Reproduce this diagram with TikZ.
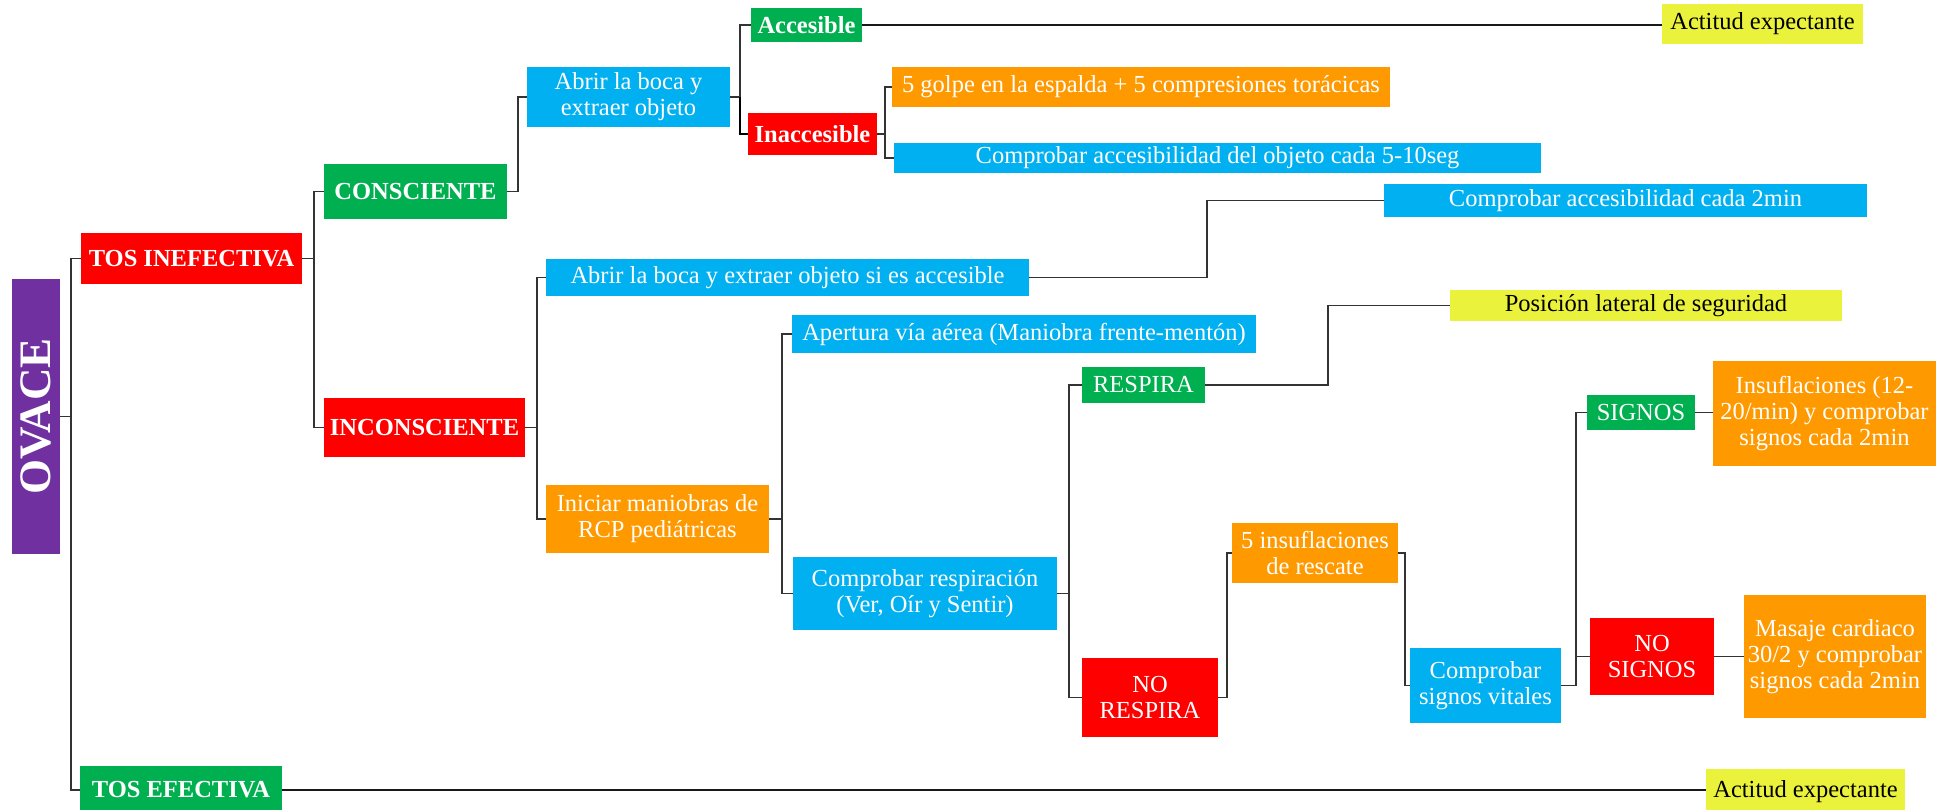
\documentclass[tikz,border=0pt]{standalone}
\usepackage{fontspec}
\setmainfont{Liberation Serif}
\usepackage{graphicx}
\definecolor{cpurple}{HTML}{7030A0}
\definecolor{cred}{HTML}{FF0000}
\definecolor{cgreen}{HTML}{00B050}
\definecolor{cblue}{HTML}{00B0F0}
\definecolor{corange}{HTML}{FF9900}
\definecolor{cyellow}{HTML}{EBF23C}
\definecolor{cline}{HTML}{333333}
\tikzset{
  bx/.style={inner sep=0pt, outer sep=0pt, align=center, text=white, font=\fontsize{24.5}{26}\selectfont},
  bxb/.style={bx, font=\fontsize{24.5}{26}\selectfont\bfseries},
  purpleb/.style={bxb, fill=cpurple},
  redb/.style={bxb, fill=cred},
  greenb/.style={bxb, fill=cgreen},
  redr/.style={bx, fill=cred},
  greenr/.style={bx, fill=cgreen},
  bluer/.style={bx, fill=cblue},
  oranger/.style={bx, fill=corange},
  yellowr/.style={bx, fill=cyellow, text=black},
  conn/.style={draw=cline, line width=1.5pt},
  longconn/.style={draw=black!90, line width=2.5pt}
}
\newcommand\mkbox[7]{\node[#6, minimum width={#3-#2}, minimum height={#5-#4}] (#1) at ({(#2+#3)/2},{(#4+#5)/2}) {#7};}
\begin{document}
\begin{tikzpicture}[x=1pt,y=-1pt]
\useasboundingbox (0,0) rectangle (1951,810);
\fill[white] (0,0) rectangle (1951,810);

% nodes
\mkbox{ovace}{12}{60}{279}{554}{purpleb}{\rotatebox{90}{\fontsize{45}{45}\selectfont OVACE}}
\mkbox{tosinef}{81}{302}{233}{284}{redb}{TOS INEFECTIVA}
\mkbox{tosef}{80}{282}{766}{814}{greenb}{TOS EFECTIVA}
\mkbox{consc}{324}{507}{164}{219}{greenb}{CONSCIENTE}
\mkbox{inconsc}{324}{525}{398}{457}{redb}{INCONSCIENTE}
\mkbox{abrir1}{527}{730}{67}{127}{bluer}{Abrir la boca y\\extraer objeto}
\mkbox{accesible}{751}{862}{8}{42}{greenb}{Accesible}
\mkbox{inacc}{748}{877}{113}{155}{redb}{Inaccesible}
\mkbox{actitud1}{1662}{1863}{4}{44}{yellowr}{Actitud expectante}
\mkbox{golpe}{892}{1390}{67}{107}{oranger}{5 golpe en la espalda + 5 compresiones torácicas}
\mkbox{compobj}{894}{1541}{143}{173}{bluer}{Comprobar accesibilidad del objeto cada 5-10seg}
\mkbox{abrir2}{546}{1029}{259}{296}{bluer}{Abrir la boca y extraer objeto si es accesible}
\mkbox{comp2min}{1384}{1867}{184}{217}{bluer}{Comprobar accesibilidad cada 2min}
\mkbox{iniciar}{546}{769}{485}{553}{oranger}{Iniciar maniobras de\\RCP pediátricas}
\mkbox{apertura}{792}{1256}{315}{353}{bluer}{Apertura vía aérea (Maniobra frente-mentón)}
\mkbox{comresp}{793}{1057}{557}{630}{bluer}{Comprobar respiración\\(Ver, Oír y Sentir)}
\mkbox{respira}{1082}{1205}{367}{403}{greenr}{RESPIRA}
\mkbox{norespira}{1082}{1218}{658}{737}{redr}{NO\\RESPIRA}
\mkbox{posicion}{1450}{1842}{290}{321}{yellowr}{Posición lateral de seguridad}
\mkbox{insuf5}{1232}{1398}{523}{583}{oranger}{5 insuflaciones\\de rescate}
\mkbox{signosv}{1410}{1561}{648}{723}{bluer}{Comprobar\\signos vitales}
\mkbox{signos}{1587}{1695}{395}{430}{greenr}{SIGNOS}
\mkbox{nosignos}{1590}{1714}{618}{695}{redr}{NO\\SIGNOS}
\mkbox{insufl}{1713}{1936}{361}{466}{oranger}{Insuflaciones (12-\\20/min) y comprobar\\signos cada 2min}
\mkbox{masaje}{1744}{1926}{595}{718}{oranger}{Masaje cardiaco\\30/2 y comprobar\\signos cada 2min}
\mkbox{actitud2}{1706}{1905}{769}{814}{yellowr}{Actitud expectante}

% joint x positions
\coordinate (j1) at (71,0);
\coordinate (j2) at (314,0);
\coordinate (j3) at (518,0);
\coordinate (j4) at (740,0);
\coordinate (j5) at (885,0);
\coordinate (j6) at (537,0);
\coordinate (j7) at (1207,0);
\coordinate (j8) at (782,0);
\coordinate (j9) at (1069,0);
\coordinate (j10) at (1328,0);
\coordinate (j11) at (1227,0);
\coordinate (j12) at (1405,0);
\coordinate (j13) at (1576,0);

% connectors
\draw[conn] (ovace.east) -- (ovace.east -| j1) |- (tosinef.west);
\draw[conn] (ovace.east -| j1) |- (tosef.west);
\draw[conn] (tosinef.east) -- (tosinef.east -| j2) |- (consc.west);
\draw[conn] (tosinef.east -| j2) |- (inconsc.west);
\draw[conn] (consc.east) -- (consc.east -| j3) |- (abrir1.west);
\draw[conn] (abrir1.east) -- (abrir1.east -| j4) |- (accesible.west);
\draw[conn, line width=2.2pt, draw=black] (abrir1.east -| j4) |- (inacc.west);
\draw[conn] (inacc.east) -- (inacc.east -| j5) |- (golpe.west);
\draw[conn] (inacc.east -| j5) |- (compobj.west);
\draw[longconn] (accesible.east) -- (actitud1.west |- accesible.east);
\draw[conn] (inconsc.east) -- (inconsc.east -| j6) |- (abrir2.west);
\draw[conn] (inconsc.east -| j6) |- (iniciar.west);
\draw[conn] (abrir2.east) -- (abrir2.east -| j7) |- (comp2min.west);
\draw[conn] (iniciar.east) -- (iniciar.east -| j8) |- (apertura.west);
\draw[conn] (iniciar.east -| j8) |- (comresp.west);
\draw[conn] (comresp.east) -- (comresp.east -| j9) |- (respira.west);
\draw[conn] (comresp.east -| j9) |- (norespira.west);
\draw[conn] (respira.east) -- (respira.east -| j10) |- (posicion.west);
\draw[conn] (norespira.east) -- (norespira.east -| j11) |- (insuf5.west);
\draw[conn] (insuf5.east) -- (insuf5.east -| j12) |- (signosv.west);
\draw[conn] (signosv.east) -- (signosv.east -| j13) |- (signos.west);
\draw[conn] (signosv.east -| j13) |- (nosignos.west);
\draw[conn] (signos.east) -- (insufl.west |- signos.east);
\draw[conn] (nosignos.east) -- (masaje.west |- nosignos.east);
\draw[longconn] (tosef.east) -- (actitud2.west |- tosef.east);
\end{tikzpicture}
\end{document}
